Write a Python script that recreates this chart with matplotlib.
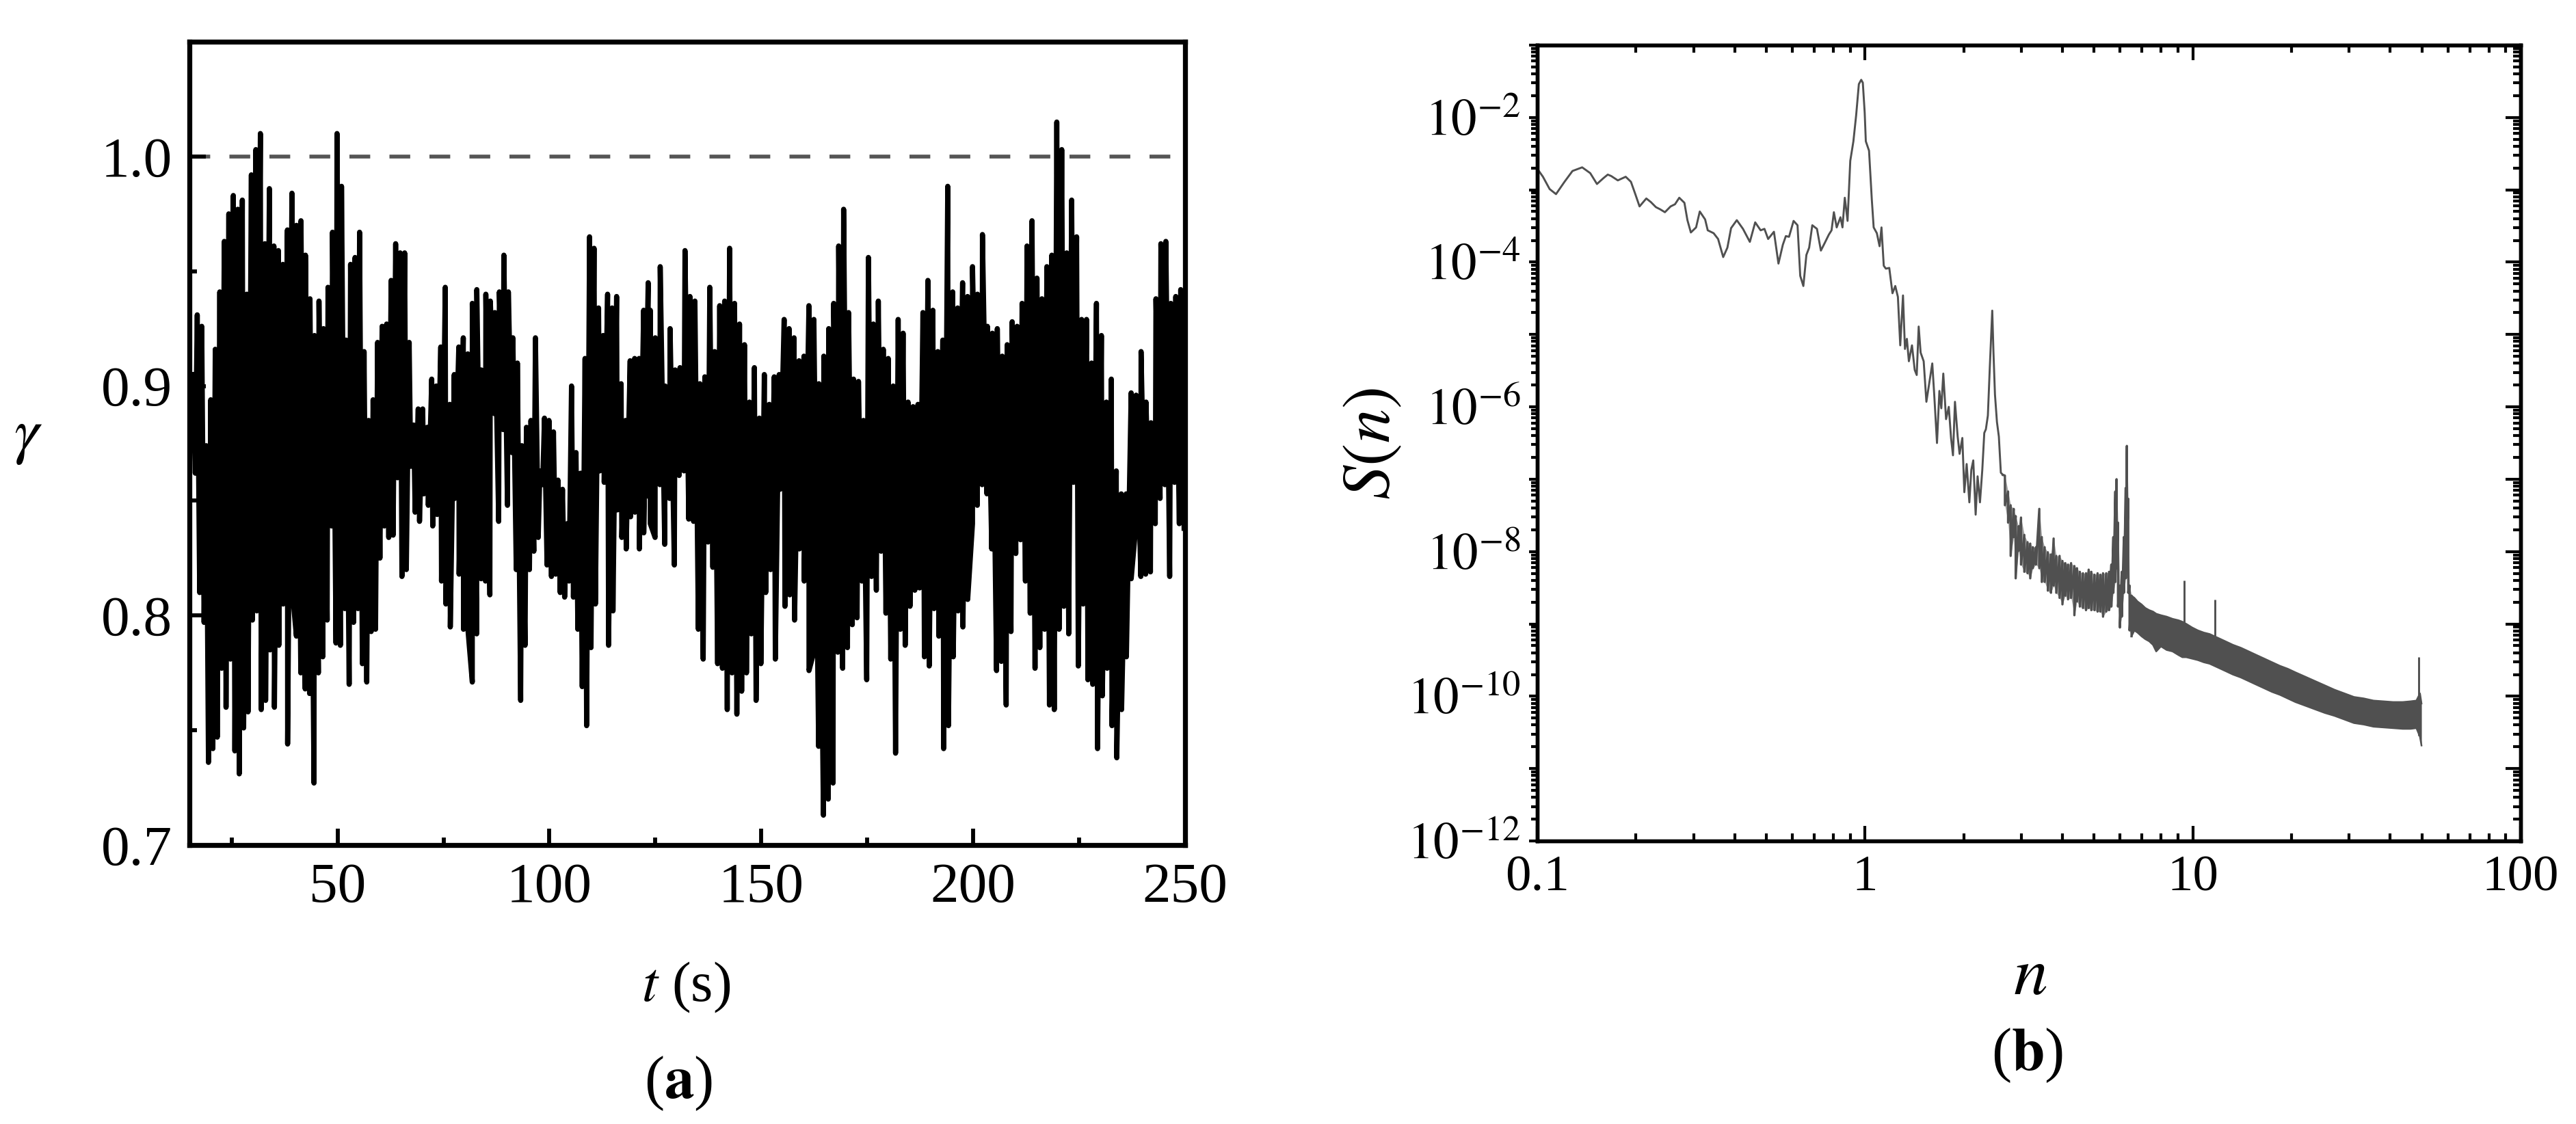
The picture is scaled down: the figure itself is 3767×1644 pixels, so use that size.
import numpy as np
import matplotlib
matplotlib.use("Agg")
import matplotlib.pyplot as plt
from matplotlib.ticker import MultipleLocator, LogLocator, FuncFormatter, NullFormatter

plt.rcParams['font.family'] = ['Liberation Serif', 'DejaVu Serif']
plt.rcParams['mathtext.fontset'] = 'stix'

# ---- (a) gamma(t): peaks and troughs ----
# segment 1: peaks t 15.8 -> 123.3, troughs t 16.4 -> 123.3
gam_hi_1 = [0.905, 0.931, 0.926, 0.874, 0.894, 0.916, 0.941, 0.963, 0.975, 0.983,
            0.977, 0.981, 0.940, 0.992, 1.003, 1.010, 0.962, 0.986, 0.961, 0.959,
            0.953, 0.968, 0.984, 0.970, 0.972, 0.957, 0.938, 0.922, 0.937, 0.925,
            0.943, 0.967, 1.010, 0.987, 0.920, 0.953, 0.956, 0.967, 0.915, 0.885,
            0.894, 0.919, 0.926, 0.927, 0.946, 0.962, 0.958, 0.958, 0.919, 0.883,
            0.890, 0.890, 0.882, 0.903, 0.900, 0.917, 0.943, 0.892, 0.905, 0.917,
            0.921, 0.914, 0.936, 0.942, 0.907, 0.940, 0.937, 0.932, 0.941, 0.957,
            0.941, 0.921, 0.910, 0.874, 0.882, 0.885, 0.921, 0.863, 0.886, 0.885,
            0.880, 0.859, 0.855, 0.840, 0.900, 0.871, 0.862, 0.912, 0.965, 0.960,
            0.934, 0.922, 0.940, 0.934, 0.939, 0.901, 0.885, 0.911, 0.912, 0.912,
            0.933, 0.945]
gam_lo_1 = [0.862, 0.810, 0.797, 0.736, 0.742, 0.747, 0.777, 0.760, 0.781, 0.741,
            0.731, 0.751, 0.758, 0.798, 0.802, 0.759, 0.763, 0.785, 0.760, 0.787,
            0.805, 0.744, 0.812, 0.791, 0.775, 0.768, 0.766, 0.727, 0.775, 0.782,
            0.798, 0.839, 0.788, 0.787, 0.803, 0.770, 0.797, 0.803, 0.779, 0.771,
            0.793, 0.794, 0.825, 0.839, 0.834, 0.835, 0.860, 0.817, 0.820, 0.865,
            0.845, 0.841, 0.853, 0.848, 0.839, 0.844, 0.815, 0.805, 0.795, 0.851,
            0.818, 0.794, 0.794, 0.771, 0.792, 0.816, 0.815, 0.809, 0.888, 0.841,
            0.881, 0.848, 0.871, 0.820, 0.763, 0.787, 0.820, 0.828, 0.834, 0.857,
            0.822, 0.817, 0.818, 0.810, 0.808, 0.815, 0.808, 0.794, 0.769, 0.752,
            0.786, 0.805, 0.863, 0.858, 0.787, 0.802, 0.846, 0.834, 0.829, 0.843,
            0.845, 0.829, 0.836, 0.852]
# segment 2: peaks t 123.8 -> 249.0, troughs t 123.8 -> 249.8
gam_hi_2 = [0.933, 0.921, 0.952, 0.900, 0.925, 0.907, 0.908, 0.959, 0.939, 0.937,
            0.901, 0.904, 0.943, 0.915, 0.935, 0.937, 0.960, 0.936, 0.927, 0.918,
            0.893, 0.908, 0.886, 0.905, 0.892, 0.904, 0.905, 0.929, 0.925, 0.921,
            0.911, 0.913, 0.935, 0.929, 0.901, 0.913, 0.925, 0.936, 0.961, 0.977,
            0.932, 0.903, 0.902, 0.885, 0.956, 0.927, 0.937, 0.916, 0.912, 0.900,
            0.929, 0.923, 0.893, 0.891, 0.892, 0.932, 0.946, 0.933, 0.915, 0.920,
            0.987, 0.941, 0.934, 0.945, 0.939, 0.952, 0.940, 0.966, 0.926, 0.923,
            0.925, 0.913, 0.918, 0.928, 0.926, 0.936, 0.961, 0.972, 0.947, 0.938,
            0.952, 0.957, 1.015, 1.003, 0.958, 0.981, 0.965, 0.929, 0.929, 0.910,
            0.936, 0.922, 0.893, 0.903, 0.863, 0.853, 0.853, 0.897, 0.896, 0.915,
            0.893, 0.884, 0.938, 0.962, 0.963, 0.936, 0.939, 0.942]
gam_lo_2 = [0.840, 0.834, 0.857, 0.831, 0.851, 0.822, 0.861, 0.863, 0.842, 0.841,
            0.794, 0.781, 0.832, 0.821, 0.779, 0.777, 0.759, 0.775, 0.757, 0.767,
            0.775, 0.792, 0.763, 0.779, 0.810, 0.820, 0.781, 0.855, 0.804, 0.809,
            0.798, 0.829, 0.815, 0.776, 0.784, 0.743, 0.713, 0.720, 0.727, 0.784,
            0.777, 0.786, 0.796, 0.799, 0.815, 0.772, 0.817, 0.811, 0.828, 0.801,
            0.781, 0.740, 0.794, 0.787, 0.804, 0.811, 0.812, 0.782, 0.778, 0.803,
            0.791, 0.742, 0.752, 0.782, 0.802, 0.795, 0.807, 0.840, 0.848, 0.857,
            0.853, 0.829, 0.776, 0.780, 0.761, 0.793, 0.827, 0.833, 0.815, 0.801,
            0.777, 0.786, 0.794, 0.761, 0.759, 0.794, 0.804, 0.792, 0.858, 0.778,
            0.805, 0.772, 0.770, 0.742, 0.765, 0.777, 0.752, 0.738, 0.759, 0.782,
            0.816, 0.840, 0.817, 0.818, 0.819, 0.840, 0.851, 0.857, 0.817, 0.858,
            0.840, 0.838]

# ---- (b) spectrum S(n), values as log10 S ----
n_low = [0.100, 0.104, 0.109, 0.114, 0.121, 0.128, 0.137, 0.145, 0.152, 0.159,
         0.164, 0.168, 0.176, 0.186, 0.193, 0.199, 0.205, 0.215, 0.222, 0.230,
         0.237, 0.245, 0.255, 0.263, 0.271, 0.281, 0.287, 0.294, 0.305, 0.313,
         0.325, 0.331, 0.345, 0.356, 0.369, 0.380, 0.390, 0.406, 0.424, 0.445,
         0.462, 0.480, 0.493, 0.506, 0.527, 0.544, 0.561, 0.573, 0.586, 0.605,
         0.622, 0.634, 0.648, 0.662, 0.675, 0.690, 0.713, 0.733, 0.754, 0.775,
         0.790, 0.803, 0.819, 0.841, 0.853, 0.867, 0.884, 0.901, 0.921, 0.939,
         0.957, 0.973, 0.984, 0.997, 1.005, 1.028, 1.048, 1.062, 1.086, 1.107,
         1.122, 1.140, 1.157, 1.185, 1.212, 1.236, 1.259, 1.280, 1.305, 1.323,
         1.341, 1.360, 1.390, 1.417, 1.437, 1.457, 1.477, 1.509, 1.538, 1.568,
         1.603, 1.625, 1.657, 1.685, 1.708, 1.732, 1.766, 1.800, 1.829, 1.854,
         1.880, 1.916, 1.942, 1.980, 2.008, 2.041, 2.080, 2.109, 2.138, 2.174,
         2.204, 2.241, 2.278, 2.310, 2.336, 2.369, 2.402, 2.443, 2.464, 2.490,
         2.525, 2.559, 2.595, 2.632]
s_low_exp = [-2.71, -2.82, -2.99, -3.06, -2.89, -2.74, -2.69, -2.77, -2.92, -2.84,
             -2.79, -2.81, -2.87, -2.82, -2.89, -3.06, -3.23, -3.12, -3.17, -3.24,
             -3.27, -3.31, -3.23, -3.20, -3.11, -3.18, -3.42, -3.59, -3.52, -3.30,
             -3.41, -3.56, -3.60, -3.68, -3.93, -3.80, -3.53, -3.42, -3.54, -3.72,
             -3.45, -3.56, -3.54, -3.68, -3.58, -4.02, -3.76, -3.64, -3.65, -3.43,
             -3.49, -4.19, -4.33, -3.90, -3.80, -3.49, -3.54, -3.84, -3.73, -3.62,
             -3.56, -3.31, -3.52, -3.38, -3.52, -3.11, -3.43, -2.60, -2.33, -1.97,
             -1.54, -1.48, -1.52, -1.93, -2.33, -2.46, -3.13, -3.52, -3.60, -3.78,
             -3.52, -4.05, -4.09, -4.08, -4.43, -4.33, -4.48, -5.15, -4.46, -5.20,
             -5.06, -5.37, -5.15, -5.49, -5.56, -4.89, -5.25, -5.37, -5.93, -5.68,
             -5.40, -5.83, -6.50, -5.78, -6.02, -5.54, -6.17, -6.00, -6.43, -6.67,
             -5.93, -6.41, -6.65, -6.43, -7.18, -6.79, -7.32, -6.87, -6.74, -7.49,
             -6.96, -7.32, -6.87, -6.36, -6.31, -6.12, -5.44, -4.67, -5.25, -5.83,
             -6.21, -6.41, -6.91, -6.94]

# noisy band above n ~ 2.7: upper and lower edge
n_band = [2.67, 2.73, 2.78, 2.84, 2.88, 2.94, 2.99, 3.06, 3.13, 3.19,
          3.25, 3.32, 3.40, 3.46, 3.53, 3.61, 3.69, 3.76, 3.83, 3.92,
          4.00, 4.08, 4.16, 4.25, 4.35, 4.43, 4.52, 4.62, 4.72, 4.81,
          4.90, 5.01, 5.12, 5.22, 5.32, 5.44, 5.55, 5.64, 5.72, 5.80,
          5.85, 5.91, 5.99, 6.07, 6.16, 6.24, 6.29, 6.35, 6.41, 6.50,
          6.63, 6.78, 6.97, 7.16, 7.36, 7.56, 7.73, 7.99, 8.32, 8.67,
          9.04, 9.29, 9.55, 9.95, 10.36, 10.80, 11.25, 11.89, 12.56, 13.26,
          14.01, 14.80, 15.63, 16.52, 17.45, 18.44, 19.47, 20.56, 22.03, 23.59,
          25.27, 27.05, 28.97, 31.02, 33.22, 35.57, 38.11, 40.81, 43.70, 46.16,
          48.10, 49.31, 49.84]
band_hi_exp = [-6.95, -7.17, -7.36, -7.41, -7.51, -7.65, -7.53, -7.77, -7.87, -7.89,
               -7.94, -7.94, -7.41, -7.80, -7.94, -8.01, -8.04, -7.82, -8.06, -8.06,
               -8.13, -8.16, -8.18, -8.16, -8.20, -8.23, -8.28, -8.30, -8.30, -8.25,
               -8.28, -8.32, -8.30, -8.32, -8.30, -8.30, -8.28, -8.18, -7.80, -7.17,
               -7.00, -7.60, -8.47, -8.28, -7.80, -7.12, -6.54, -7.27, -8.47, -8.61,
               -8.64, -8.69, -8.73, -8.78, -8.81, -8.83, -8.86, -8.88, -8.90, -8.93,
               -8.95, -8.97, -9.00, -9.05, -9.09, -9.12, -9.14, -9.19, -9.24, -9.29,
               -9.33, -9.38, -9.43, -9.48, -9.53, -9.58, -9.62, -9.67, -9.73, -9.79,
               -9.85, -9.91, -9.96, -10.01, -10.03, -10.06, -10.07, -10.08, -10.08, -10.07,
               -10.06, -9.96, -10.10]
band_lo_exp = [-7.36, -7.60, -8.06, -7.80, -8.37, -7.99, -8.18, -8.28, -8.30, -8.37,
               -8.23, -8.18, -8.23, -8.42, -8.42, -8.54, -8.57, -8.47, -8.57, -8.64,
               -8.73, -8.61, -8.66, -8.64, -8.88, -8.69, -8.76, -8.78, -8.81, -8.78,
               -8.81, -8.81, -8.83, -8.83, -8.90, -8.83, -8.81, -8.76, -8.57, -8.42,
               -8.23, -8.76, -9.05, -8.90, -8.57, -8.37, -7.99, -8.57, -9.09, -9.17,
               -9.09, -9.12, -9.17, -9.21, -9.24, -9.29, -9.38, -9.31, -9.36, -9.38,
               -9.43, -9.46, -9.46, -9.48, -9.50, -9.53, -9.55, -9.60, -9.65, -9.70,
               -9.74, -9.79, -9.84, -9.89, -9.94, -9.98, -10.03, -10.08, -10.13, -10.18,
               -10.23, -10.27, -10.32, -10.37, -10.39, -10.42, -10.43, -10.44, -10.45, -10.45,
               -10.44, -10.56, -10.68]
# isolated thin spikes
spike_n = [9.42, 11.66, 48.77]
spike_top_exp = [-8.40, -8.66, -9.46]
spike_bot_exp = [-9.46, -9.58, -10.54]

fig = plt.figure(figsize=(3767 / 300, 1644 / 300), dpi=300)
ax1 = fig.add_axes([0.0735, 0.2482, 0.3865, 0.7147])
ax2 = fig.add_axes([0.5968, 0.2518, 0.3817, 0.7081])

# panel (a)
t_all = np.concatenate([np.linspace(15.8, 123.3, len(gam_hi_1)),
                        np.linspace(16.4, 123.3, len(gam_lo_1)),
                        np.linspace(123.8, 249.0, len(gam_hi_2)),
                        np.linspace(123.8, 249.8, len(gam_lo_2))])
g_all = np.concatenate([gam_hi_1, gam_lo_1, gam_hi_2, gam_lo_2])
order = np.argsort(t_all, kind='stable')
ax1.axhline(1.0, color='#555555', lw=1.35, dashes=(5.4, 5.0), zorder=1)
ax1.plot(t_all[order], g_all[order], color='black', lw=1.8, zorder=2)
ax1.set_xlim(15, 250)
ax1.set_ylim(0.7, 1.05)
ax1.xaxis.set_major_locator(MultipleLocator(50))
ax1.xaxis.set_minor_locator(MultipleLocator(25))
ax1.yaxis.set_major_locator(MultipleLocator(0.1))
ax1.yaxis.set_minor_locator(MultipleLocator(0.05))
ax1.yaxis.set_major_formatter(FuncFormatter(lambda v, p: '%.1f' % v))
ax1.tick_params(which='both', direction='in', top=False, right=False, width=1.4)
ax1.tick_params(which='major', length=5.8, labelsize=20, pad=6)
ax1.tick_params(which='minor', length=2.7)
for s in ax1.spines.values():
    s.set_linewidth(1.75)

# panel (b)
col = '#505050'
ax2.set_xscale('log')
ax2.set_yscale('log')
ax2.plot(n_low, 10.0 ** np.array(s_low_exp), color=col, lw=0.7)
hi = 10.0 ** np.array(band_hi_exp)
lo = 10.0 ** np.array(band_lo_exp)
k = 49  # n <= 6.5: lighter body with a jagged trace on top
zz_n = np.repeat(n_band[:k + 1], 2)
zz_s = np.column_stack([hi[:k + 1], lo[:k + 1]]).ravel()
ax2.fill_between(n_band[:k + 1], lo[:k + 1], hi[:k + 1], color=col, alpha=0.55, lw=0)
ax2.plot(np.concatenate([[n_low[-1]], zz_n]), np.concatenate([[10.0 ** s_low_exp[-1]], zz_s]),
         color=col, lw=0.8)
ax2.fill_between(n_band[k:], lo[k:], hi[k:], color=col, lw=0)
ax2.plot(n_band[k:], hi[k:], color=col, lw=0.6)
ax2.plot(n_band[k:], lo[k:], color=col, lw=0.6)
ax2.vlines(spike_n, 10.0 ** np.array(spike_bot_exp), 10.0 ** np.array(spike_top_exp),
           color=col, lw=0.7)
ax2.set_xlim(0.1, 100)
ax2.set_ylim(1e-12, 1e-1)
ax2.xaxis.set_major_locator(LogLocator(base=10, numticks=10))
ax2.xaxis.set_minor_locator(LogLocator(base=10, subs=np.arange(2, 10), numticks=10))
ax2.yaxis.set_major_locator(LogLocator(base=10, numticks=20))
ax2.yaxis.set_minor_locator(LogLocator(base=10, subs=np.arange(2, 10), numticks=20))
ax2.xaxis.set_major_formatter(FuncFormatter(lambda v, p: {0.1: '0.1', 1: '1', 10: '10', 100: '100'}.get(round(v, 1), '')))
ax2.xaxis.set_minor_formatter(NullFormatter())


def ylab(v, p):
    e = int(round(np.log10(v)))
    if e % 2 == 0 and e <= -2:
        return r'$10^{%d}$' % e
    return ''


ax2.yaxis.set_major_formatter(FuncFormatter(ylab))
ax2.yaxis.set_minor_formatter(NullFormatter())
ax2.tick_params(axis='x', which='both', direction='in', top=True, width=1.0)
ax2.tick_params(axis='x', which='major', length=5.3, labelsize=18, pad=5)
ax2.tick_params(axis='x', which='minor', length=2.6)
# left ticks point outwards, right ticks inwards
ax2.tick_params(axis='y', which='both', direction='out', right=False, width=1.0)
ax2.tick_params(axis='y', which='major', length=3.0, labelsize=18, pad=3)
ax2.tick_params(axis='y', which='minor', length=2.2)
for s in ax2.spines.values():
    s.set_linewidth(1.3)

ax2r = ax2.twinx()
ax2r.set_yscale('log')
ax2r.set_ylim(1e-12, 1e-1)
ax2r.yaxis.set_major_locator(LogLocator(base=10, numticks=20))
ax2r.yaxis.set_minor_locator(LogLocator(base=10, subs=np.arange(2, 10), numticks=20))
ax2r.yaxis.set_major_formatter(NullFormatter())
ax2r.yaxis.set_minor_formatter(NullFormatter())
ax2r.tick_params(axis='y', which='both', direction='in', width=1.0)
ax2r.tick_params(axis='y', which='major', length=5.3)
ax2r.tick_params(axis='y', which='minor', length=2.6)
for s in ax2r.spines.values():
    s.set_linewidth(1.3)

# labels
fig.text(0.2663, 0.1217, r'$t$ (s)', ha='center', va='center', fontsize=20)
fig.text(0.2633, 0.0359, r'($\mathbf{a}$)', ha='center', va='center', fontsize=21)
fig.text(0.011, 0.61, r'$\gamma$', ha='center', va='center', fontsize=22)
fig.text(0.533, 0.605, r'$S(n)$', ha='center', va='center', fontsize=24, rotation=90)
fig.text(0.788, 0.130, r'$n$', ha='center', va='center', fontsize=24)
fig.text(0.787, 0.0614, r'($\mathbf{b}$)', ha='center', va='center', fontsize=21)

fig.savefig('out.png', dpi=300)
